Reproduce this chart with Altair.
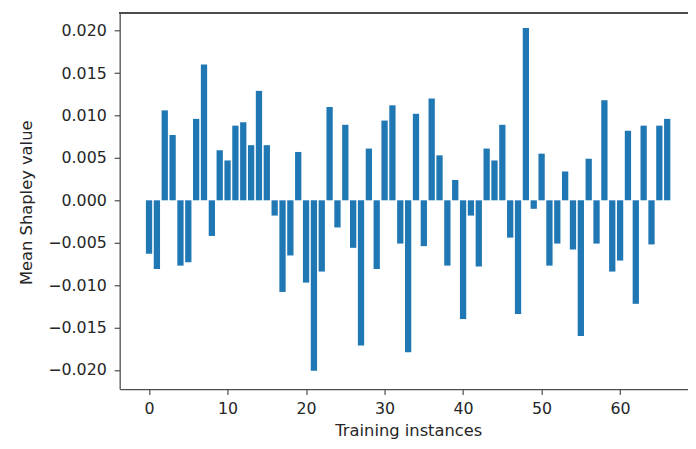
import altair as alt
import pandas as pd

# Mean Shapley value per training instance (x 1e-3)
instances = list(range(67))
shapley_milli = [
    -6.3, -8.1, 10.6, 7.7, -7.7, -7.3, 9.6, 16.0, -4.2, 5.9,
    4.7, 8.8, 9.2, 6.5, 12.9, 6.5, -1.8, -10.8, -6.5, 5.7,
    -9.7, -20.1, -8.4, 11.0, -3.2, 8.9, -5.6, -17.1, 6.1, -8.1,
    9.4, 11.2, -5.1, -17.9, 10.2, -5.4, 12.0, 5.3, -7.7, 2.4,
    -14.0, -1.8, -7.8, 6.1, 4.7, 8.9, -4.4, -13.4, 20.3, -1.0,
    5.5, -7.7, -5.1, 3.4, -5.8, -16.0, 4.9, -5.1, 11.8, -8.4,
    -7.1, 8.2, -12.2, 8.8, -5.2, 8.8, 9.6,
]
x_ticks = [0, 10, 20, 30, 40, 50, 60]
y_ticks = [-0.020, -0.015, -0.010, -0.005, 0.0, 0.005, 0.010, 0.015, 0.020]

df = pd.DataFrame({
    "instance": instances,
    "value": [v / 1000.0 for v in shapley_milli],
})

W, H = 575, 381
FONT = "DejaVu Sans"
AX = "#4d4d4d"

bars = alt.Chart(df).transform_calculate(
    lo="datum.instance - 0.4", hi="datum.instance + 0.4", zero="0"
).mark_bar(color="#1f77b4").encode(
    x=alt.X("lo:Q", scale=alt.Scale(domain=[-3.74, 68.65], nice=False, zero=False),
            axis=alt.Axis(values=x_ticks, format="d", grid=False, title="Training instances",
                          titleX=292, titleY=47, titleBaseline="alphabetic",
                          titleFontWeight="normal", titleFontSize=16.5, labelFontSize=16,
                          tickSize=5.6, labelPadding=6, domainColor=AX, tickColor=AX,
                          labelColor="#262626", titleColor="#262626", domainWidth=1.3,
                          tickWidth=1.2, labelFont=FONT, titleFont=FONT)),
    x2="hi:Q",
    y=alt.Y("value:Q", scale=alt.Scale(domain=[-0.02225, 0.02214], nice=False, zero=False),
            axis=alt.Axis(values=y_ticks, grid=False, title="Mean Shapley value",
                          labelExpr="replace(format(datum.value, '.3f'), '-', '\u2212')",
                          titleX=-94, titleY=192, titleAngle=-90, titleBaseline="middle",
                          titleAlign="center",
                          titleFontWeight="normal", titleFontSize=16.5, labelFontSize=16,
                          tickSize=5.6, labelPadding=8, domainColor=AX, tickColor=AX,
                          labelColor="#262626", titleColor="#262626", domainWidth=1.3,
                          tickWidth=1.2, labelFont=FONT, titleFont=FONT)),
    y2="zero:Q",
)

top_spine = alt.Chart(df).mark_rule(color=AX, strokeWidth=1.3).encode(
    x=alt.value(0), x2=alt.value(W), y=alt.value(0.5)
)

chart = alt.layer(bars, top_spine).properties(
    width=W, height=H,
    autosize=alt.AutoSizeParams(type="none"),
    padding={"left": 113, "top": 2, "right": 0, "bottom": 50},
).configure_view(stroke=None)

chart.save("out.html", embed_options={"renderer": "svg", "actions": False})
